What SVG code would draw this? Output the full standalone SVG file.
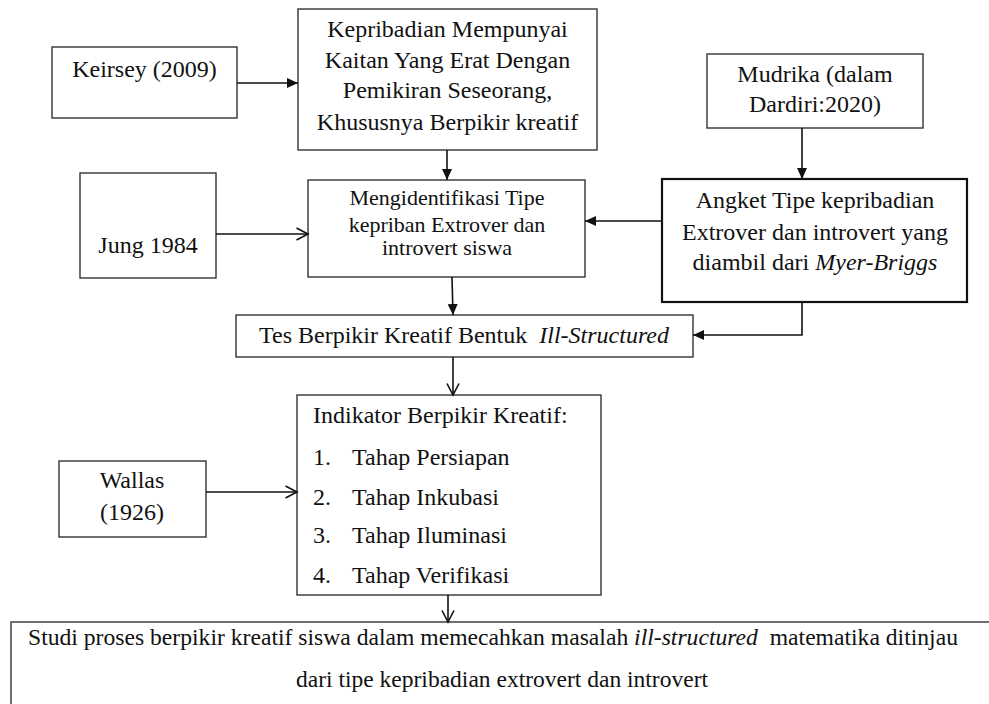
<svg xmlns="http://www.w3.org/2000/svg" width="989" height="704" viewBox="0 0 989 704">
<defs>
<style>
.nodebox{fill:#fff;stroke:#333;stroke-width:1.4}
.thickbox{stroke:#111;stroke-width:2.2}
.lbl{font-size:24px;fill:#111}
.mid{text-anchor:middle}
.conn{stroke:#111;stroke-width:1.6;fill:none}
.farrow{marker-end:url(#fa)}
.oarrow{marker-end:url(#oa)}
</style>
<marker id="fa" markerUnits="userSpaceOnUse" markerWidth="12" markerHeight="12" refX="11" refY="6" orient="auto">
<path d="M0,1 L11,6 L0,11 z" fill="#111"/>
</marker>
<marker id="oa" markerUnits="userSpaceOnUse" markerWidth="14" markerHeight="14" refX="12.5" refY="7" orient="auto">
<path d="M1,1 L12.5,7 L1,13" fill="none" stroke="#111" stroke-width="1.6"/>
</marker>
</defs>
<rect width="989" height="704" fill="#fff"/>
<g id="keirsey">
<rect class="nodebox" x="52" y="47" width="185" height="71"/>
<text class="lbl mid" style="font-family:'Liberation Serif',serif" x="144.5" y="77">Keirsey (2009)</text>
</g>
<g id="kepribadian">
<rect class="nodebox" x="298" y="9" width="299" height="141"/>
<text class="lbl mid" style="font-family:'Liberation Serif',serif" x="447.5" y="37">Kepribadian Mempunyai</text>
<text class="lbl mid" style="font-family:'Liberation Serif',serif" x="447.5" y="68">Kaitan Yang Erat Dengan</text>
<text class="lbl mid" style="font-family:'Liberation Serif',serif" x="447.5" y="98">Pemikiran Seseorang,</text>
<text class="lbl mid" style="font-family:'Liberation Serif',serif" x="447.5" y="130">Khususnya Berpikir kreatif</text>
</g>
<g id="mudrika">
<rect class="nodebox" x="707" y="54" width="216" height="74"/>
<text class="lbl mid" style="font-family:'Liberation Serif',serif" x="815" y="82">Mudrika (dalam</text>
<text class="lbl mid" style="font-family:'Liberation Serif',serif" x="815" y="112">Dardiri:2020)</text>
</g>
<g id="jung">
<rect class="nodebox" x="80" y="173" width="136" height="105"/>
<text class="lbl mid" style="font-family:'Liberation Serif',serif" x="148" y="253">Jung 1984</text>
</g>
<g id="mengidentifikasi">
<rect class="nodebox" x="308" y="180" width="277" height="97"/>
<text class="lbl mid" style="font-family:'Liberation Serif',serif;font-size:22px" x="447" y="205">Mengidentifikasi Tipe</text>
<text class="lbl mid" style="font-family:'Liberation Serif',serif;font-size:22px" x="447" y="232">kepriban Extrover dan</text>
<text class="lbl mid" style="font-family:'Liberation Serif',serif;font-size:22px" x="447" y="255">introvert siswa</text>
</g>
<g id="angket">
<rect class="nodebox thickbox" x="662" y="179" width="305" height="123"/>
<text class="lbl mid" style="font-family:'Liberation Serif',serif" x="815" y="208">Angket Tipe kepribadian</text>
<text class="lbl mid" style="font-family:'Liberation Serif',serif" x="815" y="240">Extrover dan introvert yang</text>
<text class="lbl mid" style="font-family:'Liberation Serif',serif" x="815" y="270">diambil dari <tspan font-style="italic">Myer-Briggs</tspan></text>
</g>
<g id="tes">
<rect class="nodebox" x="236" y="315" width="457" height="42"/>
<text class="lbl mid" style="font-family:'Liberation Serif',serif" x="464" y="343" xml:space="preserve">Tes Berpikir Kreatif Bentuk  <tspan font-style="italic">Ill-Structured</tspan></text>
</g>
<g id="wallas">
<rect class="nodebox" x="59" y="461" width="147" height="76"/>
<text class="lbl mid" style="font-family:'Liberation Serif',serif" x="132" y="488">Wallas</text>
<text class="lbl mid" style="font-family:'Liberation Serif',serif" x="132" y="520">(1926)</text>
</g>
<g id="indikator">
<rect class="nodebox" x="297" y="395" width="304" height="200"/>
<text class="lbl" style="font-family:'Liberation Serif',serif" x="313" y="423">Indikator Berpikir Kreatif:</text>
<text class="lbl" style="font-family:'Liberation Serif',serif" x="313" y="465">1.</text><text class="lbl" style="font-family:'Liberation Serif',serif" x="352" y="465">Tahap Persiapan</text>
<text class="lbl" style="font-family:'Liberation Serif',serif" x="313" y="505">2.</text><text class="lbl" style="font-family:'Liberation Serif',serif" x="352" y="505">Tahap Inkubasi</text>
<text class="lbl" style="font-family:'Liberation Serif',serif" x="313" y="543">3.</text><text class="lbl" style="font-family:'Liberation Serif',serif" x="352" y="543">Tahap Iluminasi</text>
<text class="lbl" style="font-family:'Liberation Serif',serif" x="313" y="583">4.</text><text class="lbl" style="font-family:'Liberation Serif',serif" x="352" y="583">Tahap Verifikasi</text>
</g>
<g id="studi">
<rect class="nodebox" x="11" y="622" width="990" height="95"/>
<text class="lbl mid" style="font-family:'Liberation Serif',serif;font-size:23px" x="493" y="645" textLength="930" lengthAdjust="spacingAndGlyphs" xml:space="preserve">Studi proses berpikir kreatif siswa dalam memecahkan masalah <tspan font-style="italic">ill-structured</tspan>  matematika ditinjau</text>
<text class="lbl mid" style="font-family:'Liberation Serif',serif;font-size:23px" x="502" y="687" textLength="412" lengthAdjust="spacingAndGlyphs">dari tipe kepribadian extrovert dan introvert</text>
</g>
<g id="connectors">
<line class="conn farrow" x1="237" y1="83" x2="298" y2="83"/>
<line class="conn farrow" x1="447" y1="150" x2="447" y2="180"/>
<line class="conn farrow" x1="802" y1="128" x2="802" y2="179"/>
<line class="conn farrow" x1="662" y1="221" x2="585" y2="221"/>
<line class="conn oarrow" x1="216" y1="234" x2="308" y2="234"/>
<line class="conn farrow" x1="452" y1="277" x2="453" y2="315"/>
<polyline class="conn farrow" points="802,302 802,335 693,335"/>
<line class="conn oarrow" x1="453" y1="357" x2="453" y2="395"/>
<line class="conn oarrow" x1="206" y1="492" x2="297" y2="492"/>
<line class="conn oarrow" x1="448" y1="595" x2="448" y2="622"/>
</g>
</svg>
